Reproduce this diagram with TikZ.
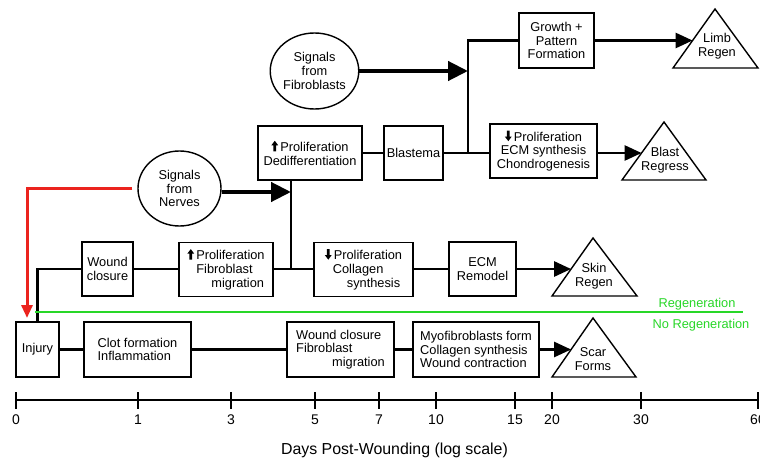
\documentclass[tikz,border=0pt]{standalone}
\usepackage{fontspec}
\setmainfont{Liberation Sans}
\usetikzlibrary{arrows.meta,shapes.geometric}
\definecolor{grn}{RGB}{40,215,40}
\definecolor{rd}{RGB}{235,35,30}
\newcommand{\upa}{\tikz[baseline=0pt,x=1pt,y=1pt]\fill (-1.3,0) -- (1.3,0) -- (1.3,6) -- (3.4,6) -- (0,10.5) -- (-3.4,6) -- (-1.3,6) -- cycle;}
\newcommand{\dna}{\tikz[baseline=0pt,x=1pt,y=1pt]\fill (-1.3,10.5) -- (1.3,10.5) -- (1.3,4.5) -- (3.4,4.5) -- (0,0) -- (-3.4,4.5) -- (-1.3,4.5) -- cycle;}
\begin{document}
\begin{tikzpicture}[x=1pt,y=-1pt,
  every node/.style={font=\fontsize{12.8}{13.8}\selectfont},
  box/.style={draw, line width=1.4pt, inner sep=0pt, align=center},
  blob/.style={draw, ellipse, line width=1.4pt, inner sep=0pt, align=center},
  conn/.style={line width=2.6pt},
  arr/.style={conn, -{Triangle[length=17pt,width=15pt]}},
  bigarr/.style={line width=4.3pt, -{Triangle[length=20pt,width=19pt]}},
  redarr/.style={line width=3pt, rd, -{Triangle[length=13pt,width=11pt]}},
  tri/.style={draw, line width=1.4pt, line join=miter},
  axis/.style={line width=1.6pt},
  ticklab/.style={font=\fontsize{14}{15}\selectfont},
  regtext/.style={text=grn, font=\fontsize{12.8}{14}\selectfont}
]
\fill[white] (0,0) rectangle (760,460);
\useasboundingbox (0,0) rectangle (760,460);

% ellipses
\node[blob, minimum width=83pt, minimum height=76pt] (sfib) at (314.5,71) {Signals\\from\\Fibroblasts};
\node[blob, minimum width=83pt, minimum height=75pt] (snerv) at (179.5,188.5) {Signals\\from\\Nerves};

% upper (blastema) row
\node[box, minimum width=104pt, minimum height=54pt] (pd) at (310,153) {\upa\,Proliferation\\Dedifferentiation};
\node[box, minimum width=59pt, minimum height=54pt] (blast) at (413.5,153) {Blastema};
\node[box, minimum width=75pt, minimum height=55pt] (grow) at (556.5,40.5) {Growth +\\Pattern\\Formation};
\node[box, minimum width=107pt, minimum height=54pt] (ecmc) at (543.5,151) {\dna\,Proliferation\\ECM synthesis\\Chondrogenesis};

% skin regeneration row
\node[box, minimum width=51pt, minimum height=54pt] (wc) at (107.5,269) {Wound\\closure};
\node[box, minimum width=94pt, minimum height=54pt, align=left] (pfm) at (226,269.5) {\upa\,Proliferation\\\hspace*{9pt}Fibroblast\\\hspace*{24pt}migration};
\node[box, minimum width=99pt, minimum height=54pt, align=left] (pcs) at (363.5,269.5) {\dna\,Proliferation\\\hspace*{8pt}Collagen\\\hspace*{22pt}synthesis};
\node[box, minimum width=67pt, minimum height=54pt] (ecmr) at (482.5,269) {ECM\\Remodel};

% scar row
\node[box, minimum width=43pt, minimum height=55pt] (inj) at (37.5,349.5) {Injury};
\node[box, minimum width=107pt, minimum height=55pt, align=left] (clot) at (137.5,349.5) {Clot formation\\Inflammation};
\node[box, minimum width=107pt, minimum height=55pt, align=left] (wcfm) at (340.5,349.5) {Wound closure\\Fibroblast\\\hspace*{36pt}migration};
\node[box, minimum width=126pt, minimum height=55pt, align=left] (myo) at (476,349.5) {Myofibroblasts form\\Collagen synthesis\\Wound contraction};

% triangles
\draw[tri] (715,9) -- (758,68) -- (673,68) -- cycle;
\node[align=center] (limb) at (717,46) {Limb\\Regen};
\draw[tri] (664,122) -- (706,180) -- (622,180) -- cycle;
\node[align=center] (bregr) at (665,160) {Blast\\Regress};
\draw[tri] (593,238) -- (637,296) -- (552,296) -- cycle;
\node[align=center] (skin) at (594,276) {Skin\\Regen};
\draw[tri] (593,318) -- (636,377) -- (552,377) -- cycle;
\node[align=center] (scar) at (593,359) {Scar\\Forms};

\coordinate (limbE) at (692.6,40.5);
\coordinate (bregrE) at (641.6,153);
\coordinate (skinE) at (571.1,269);
\coordinate (scarE) at (571.1,349.5);

% junctions
\coordinate (jv) at (291,269);
\coordinate (jb) at (468,153);
\coordinate (na) at (291,192);
\coordinate (redend) at (27,318);

% connectors, skin row
\draw[conn] (inj.north) |- (wc.west);
\draw[conn] (wc.east) -- (wc.east -| pfm.west);
\draw[conn] (pfm.east |- wc.east) -- (pcs.west |- wc.east);
\draw[conn] (pcs.east |- wc.east) -- (ecmr.west |- wc.east);
\draw[arr] (ecmr.east) -- (skinE);

% vertical to blastema row
\draw[conn] (jv |- pd.south) -- (jv);
\draw[bigarr] (snerv.east |- na) -- (na);
\draw[conn] (pd.east) -- (blast.west);
\draw[conn] (blast.east) -- (blast.east -| ecmc.west);
\draw[conn] (jb) |- (grow.west);
\draw[bigarr] (sfib.east) -- (sfib.east -| jb);
\draw[arr] (grow.east) -- (limbE);
\draw[arr] (ecmc.east |- jb) -- (bregrE);

% scar row
\draw[conn] (inj.east) -- (clot.west);
\draw[conn] (clot.east) -- (wcfm.west);
\draw[conn] (wcfm.east) -- (myo.west);
\draw[arr] (myo.east) -- (scarE);

% red line
\draw[redarr] ([xshift=-5pt]snerv.west) -| (redend);

% green divider
\coordinate (gA) at (35,312);
\coordinate (gB) at (743,312);
\draw[line width=2.8pt, grn] (gA) -- (gB);
\node[regtext] (reg) at (697,304) {Regeneration};
\node[regtext] (noreg) at (701,325.5) {No Regeneration};

% axis
\coordinate (ax0) at (16,400);
\coordinate (ax1) at (758,400);
\draw[axis] (ax0) -- (ax1);
\foreach \x/\l in {16/0,138/1,231/3,315/5,379/7,436/10,515/15,552/20,641/30,758/60} {
  \draw[axis] (\x,392) -- (\x,409);
  \node[ticklab] (t\l) at (\x,420) {\l};
}
\node[font=\fontsize{15.9}{17}\selectfont] (xlab) at (394.5,450) {Days Post-Wounding (log scale)};
\end{tikzpicture}
\end{document}
